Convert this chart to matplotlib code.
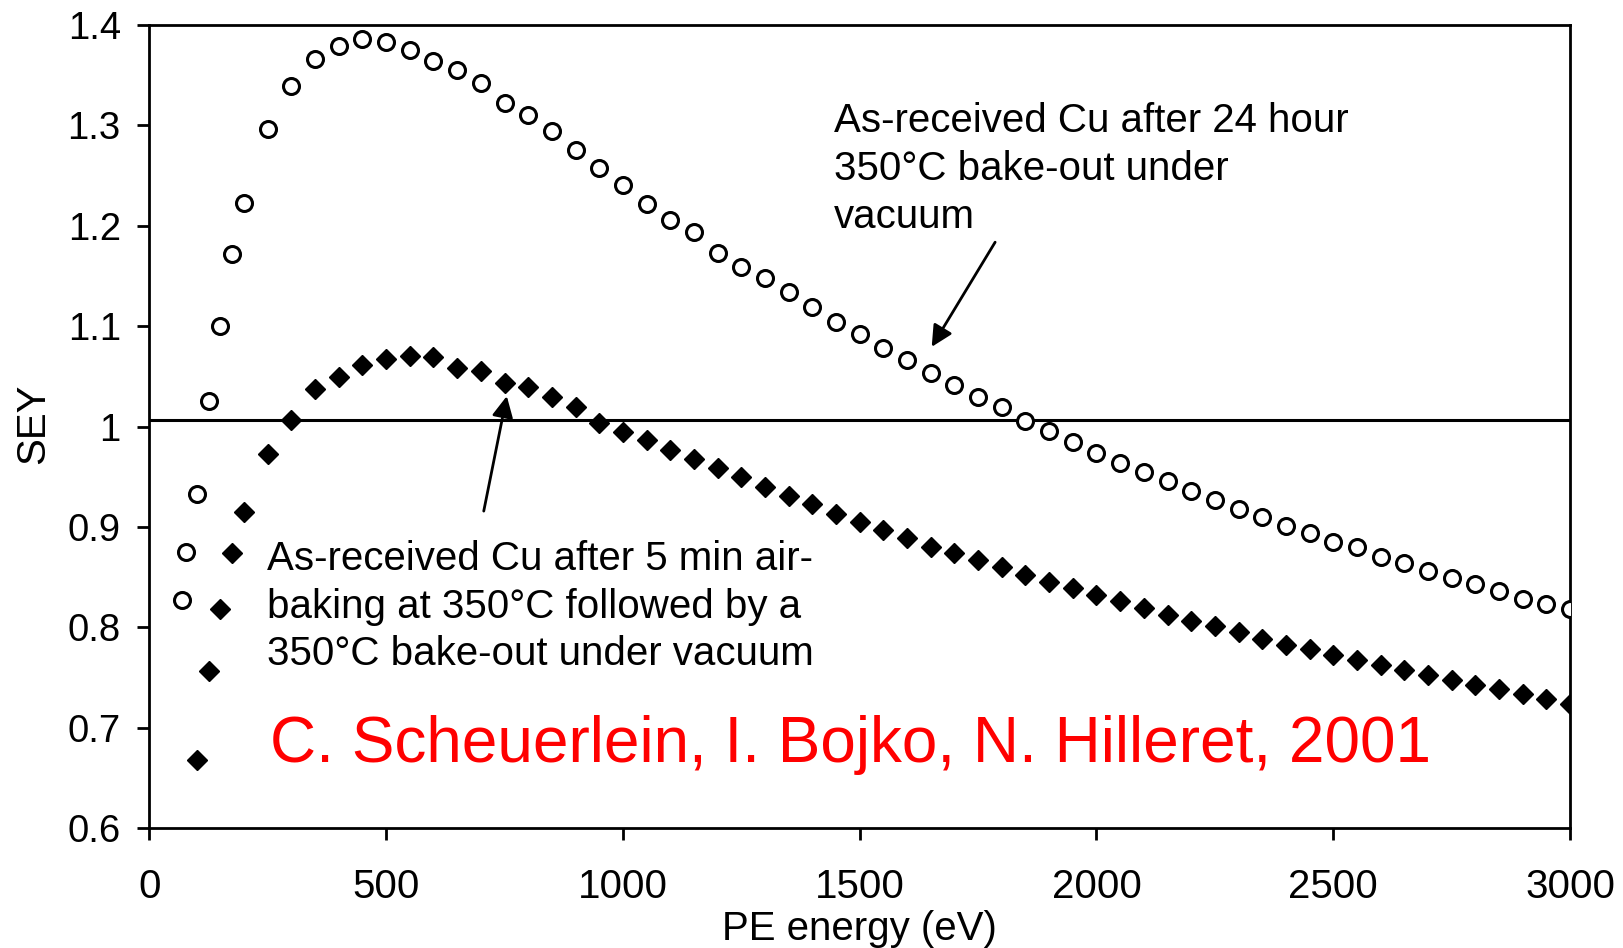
import matplotlib
matplotlib.use('Agg')
import matplotlib.pyplot as plt

# SEY data (Scheuerlein et al. 2001)
pe_vacuum = [68, 78, 100, 125, 150, 175, 200] + list(range(250, 3001, 50))
sey_vacuum = [0.827, 0.875, 0.933, 1.025, 1.100, 1.172, 1.223,
              1.296, 1.339, 1.366, 1.379, 1.386, 1.383, 1.375, 1.364, 1.355, 1.342,
              1.322, 1.310, 1.294, 1.275, 1.258, 1.241, 1.222, 1.206, 1.194, 1.173,
              1.159, 1.148, 1.134, 1.119, 1.104, 1.092, 1.078, 1.066, 1.053, 1.041,
              1.029, 1.019, 1.005, 0.996, 0.985, 0.974, 0.964, 0.955, 0.946, 0.936,
              0.927, 0.918, 0.910, 0.901, 0.894, 0.885, 0.880, 0.870, 0.864, 0.856,
              0.849, 0.843, 0.836, 0.828, 0.823, 0.818]

pe_air = [100, 125, 150, 175, 200] + list(range(250, 3001, 50))
sey_air = [0.668, 0.756, 0.818, 0.874, 0.915,
           0.973, 1.006, 1.037, 1.049, 1.061, 1.067, 1.070, 1.069, 1.058, 1.055,
           1.043, 1.039, 1.029, 1.019, 1.003, 0.995, 0.987, 0.977, 0.968, 0.959,
           0.950, 0.940, 0.931, 0.923, 0.913, 0.905, 0.897, 0.889, 0.880, 0.874,
           0.867, 0.860, 0.852, 0.845, 0.839, 0.832, 0.826, 0.819, 0.812, 0.806,
           0.801, 0.795, 0.788, 0.782, 0.778, 0.772, 0.767, 0.762, 0.757, 0.752,
           0.747, 0.742, 0.738, 0.733, 0.729, 0.724]

sey_unity = 1.006

plt.rcParams['font.family'] = ['Liberation Sans', 'DejaVu Sans']

fig = plt.figure(figsize=(16.23, 9.48), dpi=100)
ax = fig.add_axes([0.092, 0.1266, 0.8754, 0.847])

ax.plot(pe_vacuum, sey_vacuum, 'o', mfc='white', mec='black', ms=11.5, mew=2.2, zorder=3)
ax.plot(pe_air, sey_air, 'D', color='black', ms=10.5, zorder=3)
ax.axhline(sey_unity, color='black', lw=2.2, zorder=2)

ax.set_xlim(0, 3000)
ax.set_ylim(0.6, 1.4)
ax.set_xticks(range(0, 3001, 500))
ax.set_yticks([0.6, 0.7, 0.8, 0.9, 1.0, 1.1, 1.2, 1.3, 1.4])
ax.set_yticklabels(['0.6', '0.7', '0.8', '0.9', '1', '1.1', '1.2', '1.3', '1.4'])
ax.tick_params(axis='both', direction='out', length=8.5, width=2)
ax.tick_params(axis='x', pad=20, labelsize=29)
ax.tick_params(axis='y', pad=12, labelsize=27.5)
for s in ax.spines.values():
    s.set_linewidth(2)

ax.set_xlabel('PE energy (eV)', fontsize=29, va='baseline')
ax.xaxis.set_label_coords(0.5, -0.139)
ax.set_ylabel('SEY', fontsize=29, va='center')
ax.yaxis.set_label_coords(-0.082, 0.503)

ax.text(1445, 1.2567, 'As-received Cu after 24 hour\n350°C bake-out under\nvacuum',
        fontsize=29, va='center', ha='left', linespacing=1.33)
ax.annotate('', xy=(1649, 1.077), xytext=(1789, 1.186),
            arrowprops=dict(arrowstyle='-|>', color='black', lw=2, mutation_scale=32))

ax.text(249, 0.8206, 'As-received Cu after 5 min air-\nbaking at 350°C followed by a\n350°C bake-out under vacuum',
        fontsize=29, va='center', ha='left', linespacing=1.33)
ax.annotate('', xy=(756, 1.033), xytext=(705, 0.913),
            arrowprops=dict(arrowstyle='-|>', color='black', lw=2, mutation_scale=32))

ax.text(255, 0.683, 'C. Scheuerlein, I. Bojko, N. Hilleret, 2001',
        fontsize=46, color='red', va='center', ha='left')

fig.savefig('out.png', dpi=100)
